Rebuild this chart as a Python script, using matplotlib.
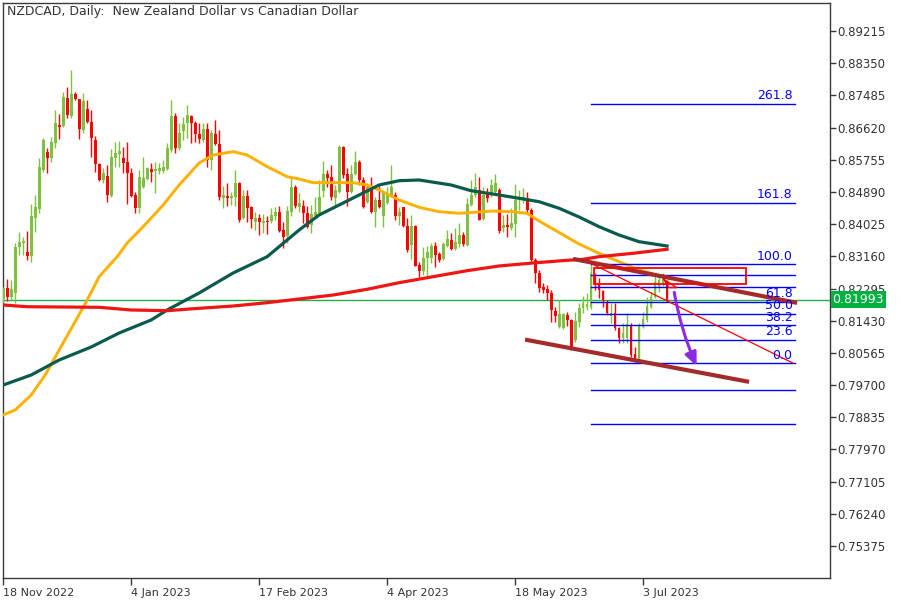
import numpy as np
import matplotlib.pyplot as plt
from matplotlib.patches import Rectangle
from matplotlib.transforms import blended_transform_factory

#######################################
# DATA
#######################################

# daily candles, bar 0 = 18 Nov 2022
opens = [.8200, .8230, .8206, .8218, .8340, .8353, .8328, .8317, .8418, .8444,
         .8548, .8596, .8579, .8620, .8669, .8666, .8742, .8694, .8752, .8739,
         .8655, .8712, .8678, .8629, .8564, .8521, .8532, .8479, .8581, .8590,
         .8581, .8570, .8541, .8481, .8445, .8503, .8524, .8551, .8545, .8546,
         .8546, .8551, .8602, .8693, .8606, .8653, .8673, .8693, .8675, .8645,
         .8629, .8657, .8575, .8645, .8618, .8472, .8479, .8472, .8476, .8512,
         .8418, .8478, .8449, .8409, .8418, .8405, .8411, .8412, .8423, .8436,
         .8387, .8371, .8436, .8503, .8448, .8451, .8432, .8400, .8424, .8432,
         .8492, .8537, .8530, .8474, .8490, .8611, .8537, .8490, .8537, .8570,
         .8521, .8463, .8501, .8436, .8467, .8423, .8458, .8481, .8481, .8423,
         .8448, .8398, .8346, .8398, .8293, .8277, .8311, .8311, .8345, .8322,
         .8308, .8344, .8360, .8335, .8349, .8373, .8346, .8454, .8481, .8494,
         .8416, .8483, .8483, .8490, .8494, .8393, .8400, .8391, .8403, .8467,
         .8467, .8472, .8441, .8306, .8270, .8234, .8227, .8217, .8170, .8127,
         .8123, .8158, .8145, .8091, .8140, .8176, .8181, .8181, .8268, .8242,
         .8224, .8192, .8156, .8163, .8123, .8096, .8096, .8131, .8053, .8040,
         .8127, .8145, .8181, .8208, .8230, .8242, .8248]
highs = [.8234, .8255, .8252, .8353, .8382, .8369, .8385, .8457, .8481, .8579,
         .8635, .8608, .8636, .8709, .8698, .8757, .8772, .8817, .8758, .8740,
         .8754, .8736, .8709, .8639, .8566, .8553, .8561, .8604, .8624, .8626,
         .8609, .8624, .8553, .8490, .8548, .8582, .8557, .8566, .8570, .8566,
         .8575, .8620, .8736, .8700, .8673, .8691, .8723, .8696, .8680, .8673,
         .8673, .8673, .8655, .8682, .8655, .8505, .8512, .8490, .8548, .8517,
         .8494, .8494, .8451, .8436, .8431, .8429, .8423, .8445, .8449, .8451,
         .8409, .8451, .8528, .8508, .8485, .8467, .8451, .8454, .8476, .8521,
         .8572, .8548, .8561, .8508, .8615, .8613, .8553, .8561, .8599, .8575,
         .8530, .8512, .8530, .8476, .8505, .8494, .8503, .8561, .8490, .8449,
         .8449, .8418, .8427, .8400, .8302, .8342, .8344, .8353, .8355, .8328,
         .8355, .8387, .8378, .8391, .8406, .8382, .8472, .8521, .8541, .8530,
         .8501, .8499, .8523, .8537, .8499, .8427, .8431, .8445, .8510, .8494,
         .8499, .8490, .8445, .8311, .8279, .8243, .8239, .8226, .8181, .8199,
         .8163, .8167, .8147, .8167, .8190, .8209, .8217, .8295, .8272, .8257,
         .8226, .8199, .8190, .8190, .8127, .8136, .8163, .8136, .8073, .8136,
         .8167, .8208, .8221, .8266, .8266, .8270, .8252]
lows = [.8190, .8197, .8199, .8190, .8320, .8320, .8306, .8301, .8382, .8433,
        .8542, .8541, .8570, .8606, .8632, .8664, .8689, .8687, .8736, .8632,
        .8648, .8675, .8584, .8543, .8519, .8512, .8461, .8476, .8555, .8557,
        .8541, .8456, .8475, .8432, .8432, .8499, .8521, .8516, .8485, .8537,
        .8539, .8548, .8597, .8593, .8602, .8629, .8633, .8620, .8624, .8620,
        .8624, .8557, .8548, .8615, .8467, .8445, .8450, .8454, .8450, .8409,
        .8416, .8409, .8391, .8387, .8373, .8378, .8376, .8405, .8414, .8382,
        .8338, .8351, .8423, .8445, .8436, .8405, .8393, .8378, .8423, .8427,
        .8476, .8503, .8467, .8450, .8485, .8526, .8450, .8485, .8535, .8508,
        .8445, .8458, .8432, .8396, .8445, .8396, .8457, .8476, .8414, .8400,
        .8396, .8328, .8308, .8289, .8261, .8266, .8257, .8297, .8288, .8301,
        .8306, .8342, .8333, .8333, .8342, .8345, .8345, .8450, .8476, .8414,
        .8414, .8463, .8476, .8485, .8378, .8382, .8369, .8387, .8369, .8441,
        .8458, .8436, .8297, .8243, .8221, .8217, .8199, .8140, .8140, .8123,
        .8120, .8129, .8064, .8086, .8127, .8163, .8172, .8174, .8226, .8203,
        .8181, .8158, .8136, .8118, .8082, .8082, .8082, .8046, .8033, .8037,
        .8123, .8140, .8176, .8203, .8221, .8236, .8192]
closes = [.8230, .8206, .8227, .8340, .8355, .8357, .8317, .8423, .8449, .8557,
          .8629, .8581, .8624, .8673, .8664, .8745, .8696, .8752, .8739, .8657,
          .8733, .8678, .8635, .8564, .8521, .8539, .8482, .8582, .8593, .8599,
          .8568, .8541, .8479, .8446, .8530, .8526, .8553, .8543, .8551, .8553,
          .8555, .8606, .8693, .8606, .8648, .8672, .8696, .8673, .8645, .8631,
          .8657, .8575, .8647, .8618, .8475, .8481, .8472, .8479, .8512, .8414,
          .8478, .8445, .8416, .8418, .8407, .8411, .8409, .8427, .8434, .8385,
          .8369, .8438, .8503, .8452, .8460, .8432, .8396, .8429, .8436, .8476,
          .8537, .8527, .8476, .8494, .8611, .8535, .8490, .8537, .8570, .8521,
          .8448, .8501, .8436, .8467, .8449, .8485, .8485, .8503, .8423, .8436,
          .8398, .8333, .8398, .8289, .8277, .8311, .8328, .8345, .8320, .8306,
          .8349, .8362, .8335, .8355, .8373, .8349, .8457, .8481, .8501, .8414,
          .8481, .8472, .8508, .8512, .8385, .8400, .8396, .8406, .8467, .8472,
          .8476, .8441, .8306, .8270, .8230, .8226, .8217, .8172, .8156, .8161,
          .8161, .8145, .8069, .8143, .8176, .8190, .8188, .8270, .8242, .8226,
          .8199, .8163, .8163, .8123, .8096, .8109, .8133, .8051, .8042, .8131,
          .8147, .8183, .8208, .8248, .8252, .8261, .81993]

# moving averages (bar index, value)
ma_fast_x = [0, 3, 7, 10.5, 14, 18.5, 21, 24, 28.5, 31, 35, 40, 44, 49, 52.5, 57.5, 61, 66, 71,
             74, 77.5, 82.5, 87.5, 91, 94, 99, 104, 109, 114, 122.5, 127.5, 131, 134, 139, 144,
             149, 154, 159, 163.5, 166]
ma_fast = [.78896, .79031, .79434, .79971, .80643, .81503, .81986, .82613, .83150, .83518,
           .83956, .84539, .85077, .85668, .85883, .85972, .85883, .85569, .85300, .85238,
           .85139, .85139, .85139, .85077, .84942, .84674, .84477, .84359, .84316, .84378,
           .84359, .84316, .84109, .83800, .83491, .83241, .83016, .82793, .82658, .82597]
ma_mid_x = [0, 7, 14, 22, 29, 37, 41, 49, 57.5, 66, 74, 79, 84, 89, 94, 99, 104, 112, 117,
            124, 129, 134, 139, 144, 149, 154, 159, 166]
ma_mid = [.79702, .79971, .80374, .80723, .81100, .81449, .81718, .82175, .82712, .83150,
          .83867, .84271, .84539, .84808, .85077, .85192, .85211, .85077, .84923, .84808,
          .84719, .84628, .84451, .84217, .83956, .83733, .83553, .83437]
ma_slow_x = [0, 6, 24, 32, 41, 49, 57.5, 66, 74, 82.5, 91, 99, 107.5, 116, 124, 132.5, 141,
             145, 149, 157.5, 166]
ma_slow = [.81852, .81806, .81790, .81718, .81699, .81763, .81825, .81914, .82013, .82120,
           .82274, .82451, .82613, .82774, .82900, .82981, .83053, .83080, .83150, .83241,
           .83349]

# fibonacci retracement
fib_start, fib_end = 147, 198
fib_0, fib_100 = 0.8029, 0.8295
fib_levels = [0.0, 23.6, 38.2, 50.0, 61.8, 76.4, 88.6, 100.0, 161.8, 261.8, -27.2, -61.8]
fib_labels = ["0.0", "23.6", "38.2", "50.0", "61.8", "", "", "100.0", "161.8", "261.8", "", ""]

# drawn objects
upper_trend = ([143, 198], [0.83080, 0.81919])
lower_trend = ([131, 186], [0.80912, 0.79797])
fib_trend = ([147, 197.5], [0.8297, 0.8029])
zone = (147.75, 185.75, 0.82417, 0.82838)
arrow_from = (167.8, 0.8219)
arrow_to = (173.4, 0.8021)

last_price = 0.81993
price_ticks = [0.89215 - k * 0.00865 for k in range(17)]
date_pos = [0, 32, 64, 96, 128, 160]
date_labels = ["18 Nov 2022", "4 Jan 2023", "17 Feb 2023", "4 Apr 2023", "18 May 2023", "3 Jul 2023"]

#######################################
# PLOT
#######################################
UP = "#80C040"
DOWN = "#FF0000"
AX = "#3a3a3a"

fig = plt.figure(figsize=(9, 6), dpi=100)
ax = fig.add_axes([3 / 900, 22 / 600, 827 / 900, 575 / 600])

o = np.array(opens)
h = np.array(highs)
l = np.array(lows)
c = np.array(closes)
idx = np.arange(len(o))
cols = [UP if cc >= oo else DOWN for oo, cc in zip(o, c)]

ax.vlines(idx, l, h, colors=cols, lw=1, zorder=3)
body_lo = np.minimum(o, c)
body_h = np.maximum(np.abs(c - o), 0.00005)
ax.bar(idx, body_h, bottom=body_lo, width=0.72, color=cols, linewidth=0, zorder=3)

# moving averages
ax.plot(ma_fast_x, ma_fast, color="#FFB000", lw=2.1, zorder=4)
ax.plot(ma_mid_x, ma_mid, color="#0B5A4E", lw=2.3, zorder=4)
ax.plot(ma_slow_x, ma_slow, color="#F01515", lw=2.3, zorder=4)

# current price line
ax.axhline(last_price, color="#22B04A", lw=1, zorder=2)

# fibonacci levels
for lv, lab in zip(fib_levels, fib_labels):
    p = fib_0 + lv / 100 * (fib_100 - fib_0)
    ax.plot([fib_start, fib_end], [p, p], color="#0000FF", lw=1, zorder=5)
    if lab:
        ax.text(fib_end - 0.6, p + 0.0004, lab, color="#0000FF", fontsize=9,
                ha="right", va="bottom", zorder=6)

# trend lines and zone
ax.plot(*upper_trend, color="#A52A2A", lw=3, zorder=5)
ax.plot(*lower_trend, color="#A52A2A", lw=3, zorder=5)
ax.plot(*fib_trend, color="#FF0000", lw=0.9, zorder=5)
ax.add_patch(Rectangle((zone[0], zone[2]), zone[1] - zone[0], zone[3] - zone[2],
                       fill=False, edgecolor="#FF0000", lw=1.3, zorder=6))
ax.plot([165.2, 168.4, 166.4, 165.2], [0.8254, 0.8232, 0.8232, 0.8254], color="#FF0000", lw=1, zorder=6)

ax.annotate("", xy=arrow_to, xytext=arrow_from,
            arrowprops=dict(arrowstyle="-|>,head_width=0.35,head_length=0.8", color="#8A2BE2",
                            lw=2.2, mutation_scale=10, connectionstyle="arc3,rad=0.06",
                            shrinkA=0, shrinkB=0), zorder=7)

# axes
ax.set_xlim(-0.05, 206.75)
ax.set_ylim(0.74516, 0.89967)
ax.yaxis.tick_right()
ax.set_yticks(price_ticks)
ax.set_yticklabels([f"{t:.5f}" for t in price_ticks])
ax.set_xticks(date_pos)
ax.set_xticklabels(date_labels, ha="left")
ax.tick_params(axis="y", direction="out", length=4, width=1, color=AX, labelcolor="#333333",
               labelsize=8.5, pad=1)
ax.tick_params(axis="x", direction="out", length=5, width=1, color=AX, labelcolor="#333333",
               labelsize=8, pad=2)
for s in ax.spines.values():
    s.set_color(AX)
    s.set_linewidth(1)

# price tag (covers part of the tick label just above, as on the terminal)
tr = blended_transform_factory(ax.transAxes, ax.transData)
ax.text(1.003, last_price, f"{last_price:.5f}", transform=tr, color="white", fontsize=9,
        ha="left", va="center", clip_on=False, zorder=10,
        bbox=dict(boxstyle="square,pad=0.15", fc="#00B140", ec="none"))

fig.text(7 / 900, 1 - 11 / 600, "NZDCAD, Daily:  New Zealand Dollar vs Canadian Dollar",
         fontsize=9, color="#333333", va="center", ha="left")

plt.savefig("out.png", dpi=100)
